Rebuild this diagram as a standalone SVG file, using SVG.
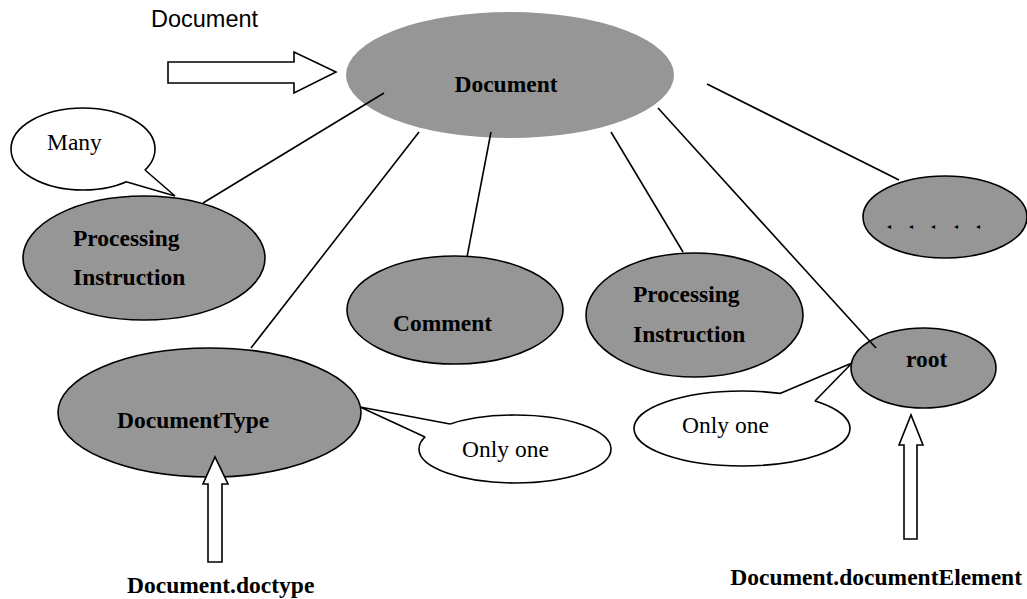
<svg xmlns="http://www.w3.org/2000/svg" width="1027" height="599" viewBox="0 0 1027 599">
  <style>
    .node { fill: #969696; stroke: #000; stroke-width: 1.6; }
    .root-doc { fill: #969696; stroke: none; }
    .lbl { font-family: "Liberation Serif", "Times New Roman", serif; font-weight: bold; font-size: 23.5px; fill: #000; }
    .note { font-family: "Liberation Serif", "Times New Roman", serif; font-size: 23.5px; fill: #000; }
    .sans { font-family: "Liberation Sans", Arial, sans-serif; font-size: 23.5px; fill: #000; }
    .bubble { fill: #fff; stroke: #000; stroke-width: 1.6; }
    .tail-fill { fill: #fff; stroke: none; }
    .tail { fill: none; stroke: #000; stroke-width: 1.6; stroke-linejoin: miter; }
    .arrow { fill: #fff; stroke: #000; stroke-width: 1.6; stroke-linejoin: miter; }
    .edge { stroke: #000; stroke-width: 1.6; fill: none; }
    .dots { font-family: "DejaVu Sans", sans-serif; font-size: 8px; fill: #000; }
  </style>

  <!-- entry arrow into Document -->
  <g id="entry">
    <text class="sans" x="151" y="27">Document</text>
    <polygon class="arrow" points="168,62 294,62 294,52 336,72 294,93 294,83 168,83"/>
  </g>

  <g id="document">
    <ellipse class="root-doc" cx="510" cy="75" rx="164" ry="63"/>
    <text class="lbl" x="506" y="92" text-anchor="middle">Document</text>
  </g>

  <g id="pi-left">
    <ellipse class="node" cx="144" cy="258" rx="121" ry="62"/>
    <text class="lbl" x="73" y="246">Processing</text>
    <text class="lbl" x="73" y="285">Instruction</text>
  </g>

  <g id="comment">
    <ellipse class="node" cx="455" cy="310" rx="108" ry="54"/>
    <text class="lbl" x="393" y="331">Comment</text>
  </g>

  <g id="pi-right">
    <ellipse class="node" cx="694.5" cy="315" rx="108.5" ry="62"/>
    <text class="lbl" x="633" y="302">Processing</text>
    <text class="lbl" x="633" y="342">Instruction</text>
  </g>

  <g id="more">
    <ellipse class="node" cx="945" cy="217" rx="82" ry="41"/>
    <text class="dots" x="887 909 931 954 976" y="229">◂◂◂◂◂</text>
  </g>

  <g id="doctype">
    <ellipse class="node" cx="209.5" cy="412.5" rx="151.5" ry="64.5"/>
    <text class="lbl" x="117" y="428">DocumentType</text>
  </g>

  <g id="root">
    <ellipse class="node" cx="923.5" cy="368" rx="72.5" ry="40"/>
    <text class="lbl" x="906" y="367">root</text>
  </g>

  <!-- callouts -->
  <g id="note-many">
    <ellipse class="bubble" cx="83" cy="149" rx="72" ry="41"/>
    <polygon class="tail-fill" points="145,170 175,196 127,182 125,176 140,168"/>
    <polyline class="tail" points="145,170 175,196 127,182"/>
    <text class="note" x="47" y="150">Many</text>
  </g>

  <g id="note-doctype">
    <ellipse class="bubble" cx="515" cy="449" rx="96" ry="34"/>
    <polygon class="tail-fill" points="450,424 360,407 425,437 430,437 452,428"/>
    <polyline class="tail" points="450,424 360,407 425,437"/>
    <text class="note" x="462" y="457">Only one</text>
  </g>

  <g id="note-root">
    <ellipse class="bubble" cx="742" cy="428.5" rx="108" ry="37.5"/>
    <polygon class="tail-fill" points="780,393.5 852,363 815,401 812,405 780,397"/>
    <polyline class="tail" points="780,393.5 852,363 815,401"/>
    <text class="note" x="682" y="433">Only one</text>
  </g>

  <!-- accessor arrows -->
  <g id="doctype-accessor">
    <polygon class="arrow" points="208,562 208,484 203,484 215,457 228,484 222,484 222,562"/>
    <text class="lbl" x="127" y="593">Document.doctype</text>
  </g>

  <g id="root-accessor">
    <polygon class="arrow" points="904,539 904,445 899,445 911,415 923,445 917,445 917,539"/>
    <text class="lbl" x="1022" y="585" text-anchor="end">Document.documentElement</text>
  </g>

  <!-- child links from Document -->
  <g id="connectors">
    <line class="edge" x1="384" y1="93" x2="203" y2="203"/>
    <line class="edge" x1="419" y1="132" x2="251" y2="348"/>
    <line class="edge" x1="491" y1="132" x2="467" y2="257"/>
    <line class="edge" x1="611" y1="132" x2="683" y2="252"/>
    <line class="edge" x1="658" y1="108" x2="876" y2="348"/>
    <line class="edge" x1="707" y1="84" x2="899" y2="180"/>
  </g>
</svg>
